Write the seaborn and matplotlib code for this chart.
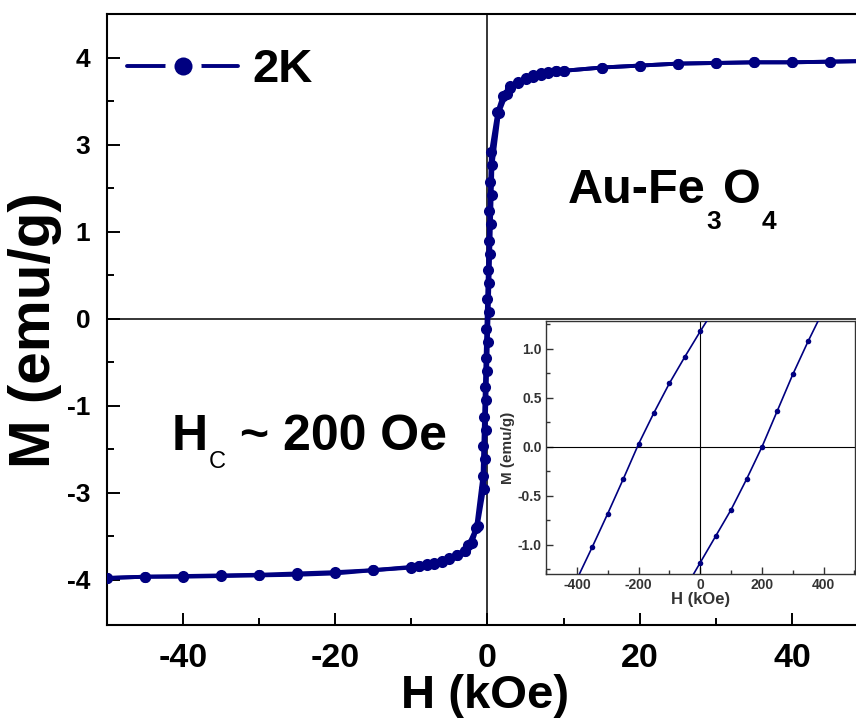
import matplotlib
matplotlib.use("Agg")
import matplotlib.pyplot as plt
import seaborn as sns
import pandas as pd
from matplotlib.lines import Line2D
from matplotlib.legend_handler import HandlerTuple
from matplotlib.ticker import FixedLocator, MultipleLocator, FormatStrFormatter

# ---- main loop, 2 K: field (kOe) and magnetisation, both sweep directions ----
H_down = [50, 45, 40, 35, 30, 25, 20, 15, 10, 9, 8, 7, 6, 5, 4, 3, 2, 1.3,
          0.45, 0.35, 0.25, 0.15, 0.05, -0.05, -0.15, -0.25, -0.35, -0.45, -0.55, -0.65,
          -1.5, -2.5, -3, -4, -5, -6, -7, -8, -9, -10, -15, -20, -25, -30, -35, -40, -45, -50]
M_down = [3.95, 3.94, 3.93, 3.93, 3.92, 3.91, 3.88, 3.85, 3.80, 3.79, 3.78, 3.76, 3.73, 3.69, 3.63, 3.56, 3.42, 3.17,
          2.55, 2.10, 1.65, 1.20, 0.75, 0.30, -0.15, -0.60, -1.05, -1.50, -1.95, -2.40,
          -3.20, -3.46, -3.55, -3.62, -3.67, -3.71, -3.74, -3.76, -3.78, -3.80, -3.85, -3.90, -3.92, -3.93, -3.94, -3.95, -3.95, -3.97]
H_up = [-50, -45, -40, -35, -30, -25, -20, -15, -10, -9, -8, -7, -6, -5, -4, -3, -2, -1.3,
        -0.45, -0.35, -0.25, -0.15, -0.05, 0.05, 0.15, 0.25, 0.35, 0.45, 0.55, 0.65,
        1.5, 2.5, 3, 4, 5, 6, 7, 8, 9, 10, 15, 20, 25, 30, 35, 40, 45, 50]
M_up = [-3.97, -3.95, -3.94, -3.93, -3.92, -3.90, -3.88, -3.85, -3.81, -3.79, -3.77, -3.75, -3.72, -3.68, -3.62, -3.55, -3.43, -3.18,
        -2.60, -2.15, -1.70, -1.25, -0.80, -0.35, 0.10, 0.55, 1.00, 1.45, 1.90, 2.35,
        3.15, 3.45, 3.54, 3.61, 3.67, 3.71, 3.74, 3.77, 3.79, 3.80, 3.85, 3.88, 3.91, 3.92, 3.93, 3.93, 3.94, 3.95]

# ---- low-field detail (inset) ----
Hi_down = [50, 0, -50, -100, -150, -200, -250, -300, -350, -400]
Mi_down = [1.43, 1.18, 0.92, 0.65, 0.35, 0.03, -0.33, -0.68, -1.02, -1.35]
Hi_up = [-50, 0, 50, 100, 150, 200, 250, 300, 350, 400]
Mi_up = [-1.45, -1.18, -0.91, -0.64, -0.33, 0.00, 0.37, 0.74, 1.08, 1.40]

# ---- axis ticks ----
y_tick_pos = [4, 8 / 3, 4 / 3, 0, -4 / 3, -8 / 3, -4]
y_tick_labels = ["4", "3", "1", "0", "-1", "-3", "-4"]
x_tick_pos = [-40, -20, 0, 20, 40]
inset_x_ticks = [-400, -200, 0, 200, 400]
inset_y_ticks = [-1.0, -0.5, 0.0, 0.5, 1.0]

NAVY = "#000080"
INSET_GREY = "#333333"

sns.set_theme(style="ticks")
plt.rcParams["font.family"] = ["Liberation Sans", "DejaVu Sans"]
plt.rcParams["font.weight"] = "bold"
plt.rcParams["axes.unicode_minus"] = False
for key in ("text.color", "axes.labelcolor", "xtick.color", "ytick.color", "axes.edgecolor"):
    plt.rcParams[key] = "black"

main_df = pd.concat([
    pd.DataFrame({"H": H_down, "M": M_down, "sweep": "down"}),
    pd.DataFrame({"H": H_up, "M": M_up, "sweep": "up"}),
], ignore_index=True)
inset_df = pd.concat([
    pd.DataFrame({"H": Hi_down, "M": Mi_down, "sweep": "down"}),
    pd.DataFrame({"H": Hi_up, "M": Mi_up, "sweep": "up"}),
], ignore_index=True)


def chained_text(ax, x, y, pieces):
    """Write text pieces one after another on a shared baseline;
    each piece is (string, size, drop below baseline in pt, weight, gap in pt)."""
    s, size, drop, weight, _ = pieces[0]
    prev = ax.text(x, y, s, transform=ax.transAxes, fontsize=size, fontweight=weight,
                   va="baseline", ha="left", color="black")
    for s, size, drop, weight, gap in pieces[1:]:
        prev = ax.annotate(s, xy=(1, y), xycoords=(prev, ax.transAxes),
                           xytext=(gap, -drop), textcoords="offset points",
                           fontsize=size, fontweight=weight, va="baseline", ha="left",
                           color="black")
    return prev


fig = plt.figure(figsize=(8.56, 7.26), dpi=100)
ax = fig.add_axes([0.125, 0.1391, 0.889, 0.8416])

ax.axhline(0, color="black", lw=1.1, zorder=1)
ax.axvline(0, color="black", lw=1.1, zorder=1)

for sweep, grp in main_df.groupby("sweep", sort=False):
    sns.lineplot(data=grp, x="H", y="M", sort=False, estimator=None, ax=ax,
                 color=NAVY, lw=2.8, marker="o", markersize=8,
                 markeredgewidth=0, legend=False, zorder=3)

ax.set_xlim(-50, 50)
ax.set_ylim(-4.69, 4.67)
ax.xaxis.set_major_locator(FixedLocator(x_tick_pos))
ax.xaxis.set_minor_locator(MultipleLocator(10))
ax.yaxis.set_major_locator(FixedLocator(y_tick_pos))
ax.set_yticklabels(y_tick_labels)
ax.yaxis.set_minor_locator(FixedLocator([(a + b) / 2 for a, b in zip(y_tick_pos[:-1], y_tick_pos[1:])]))
ax.tick_params(axis="both", which="major", direction="in", length=9, width=1.4,
               color="black", labelcolor="black")
ax.tick_params(axis="both", which="minor", direction="in", length=5, width=1.4, color="black")
ax.tick_params(axis="x", labelsize=24.5, pad=13)
ax.tick_params(axis="y", labelsize=19, pad=12)
for lab in ax.get_xticklabels() + ax.get_yticklabels():
    lab.set_fontweight("bold")
for s in ax.spines.values():
    s.set_linewidth(1.5)
    s.set_color("black")
ax.set_xlabel("H (kOe)", fontsize=34, fontweight="bold", color="black")
ax.xaxis.set_label_coords(0.497, -0.080)
ax.set_ylabel("M (emu/g)", fontsize=42, fontweight="bold", color="black")
ax.yaxis.set_label_coords(-0.059, 0.483)

# sample name with lowered subscripts
chained_text(ax, 0.606, 0.691, [
    ("Au-Fe", 35, 0, "bold", 0),
    ("3", 19, 19, "bold", 0.5),
    ("O", 35, 0, "bold", 1.5),
    ("4", 19, 19, "bold", 0.5),
])
# coercive field
chained_text(ax, 0.0854, 0.2864, [
    ("H", 36, 0, "bold", 0),
    ("C", 17, 13, "normal", 0.5),
    (" ~ 200 Oe", 36, 0, "bold", 0),
])

# legend: line with a gap around the dot
h_line = Line2D([], [], color=NAVY, lw=2.8)
h_gap = Line2D([], [], ls="none", marker="o", markersize=26, markerfacecolor="white",
               markeredgewidth=0)
h_dot = Line2D([], [], ls="none", marker="o", markersize=13, markerfacecolor=NAVY,
               markeredgewidth=0)
leg = ax.legend([(h_line, h_gap, h_dot)], ["2K"], handler_map={tuple: HandlerTuple(ndivide=1)},
                loc="center left", bbox_to_anchor=(0.026, 0.908), frameon=False,
                prop={"size": 34, "weight": "bold"}, handlelength=2.36, handletextpad=0.3,
                borderpad=0, borderaxespad=0)
for t in leg.get_texts():
    t.set_color("black")

# ---- inset ----
axi = fig.add_axes([0.6379, 0.2094, 0.361, 0.3485], zorder=5)
axi.set_facecolor("white")
axi.axhline(0, color="black", lw=0.8, zorder=1)
axi.axvline(0, color="black", lw=0.8, zorder=1)
for sweep, grp in inset_df.groupby("sweep", sort=False):
    sns.lineplot(data=grp, x="H", y="M", sort=False, estimator=None, ax=axi,
                 color=NAVY, lw=1.2, marker="o", markersize=4, markeredgewidth=0,
                 legend=False, zorder=3)
axi.set_xlim(-500, 502)
axi.set_ylim(-1.296, 1.286)
axi.xaxis.set_major_locator(FixedLocator(inset_x_ticks))
axi.xaxis.set_minor_locator(MultipleLocator(100))
axi.yaxis.set_major_locator(FixedLocator(inset_y_ticks))
axi.yaxis.set_minor_locator(MultipleLocator(0.25))
axi.yaxis.set_major_formatter(FormatStrFormatter("%.1f"))
axi.tick_params(axis="both", which="major", direction="in", length=5, width=1.0,
                labelsize=10, colors=INSET_GREY, pad=3)
axi.tick_params(axis="both", which="minor", direction="in", length=3, width=1.0, color=INSET_GREY)
for lab in axi.get_xticklabels() + axi.get_yticklabels():
    lab.set_fontweight("bold")
for s in axi.spines.values():
    s.set_linewidth(1.0)
    s.set_color(INSET_GREY)
axi.set_xlabel("H (kOe)", fontsize=12, fontweight="bold", color=INSET_GREY, labelpad=0)
axi.set_ylabel("M (emu/g)", fontsize=11, fontweight="bold", color=INSET_GREY, labelpad=2)

fig.savefig("out.png", dpi=100)
